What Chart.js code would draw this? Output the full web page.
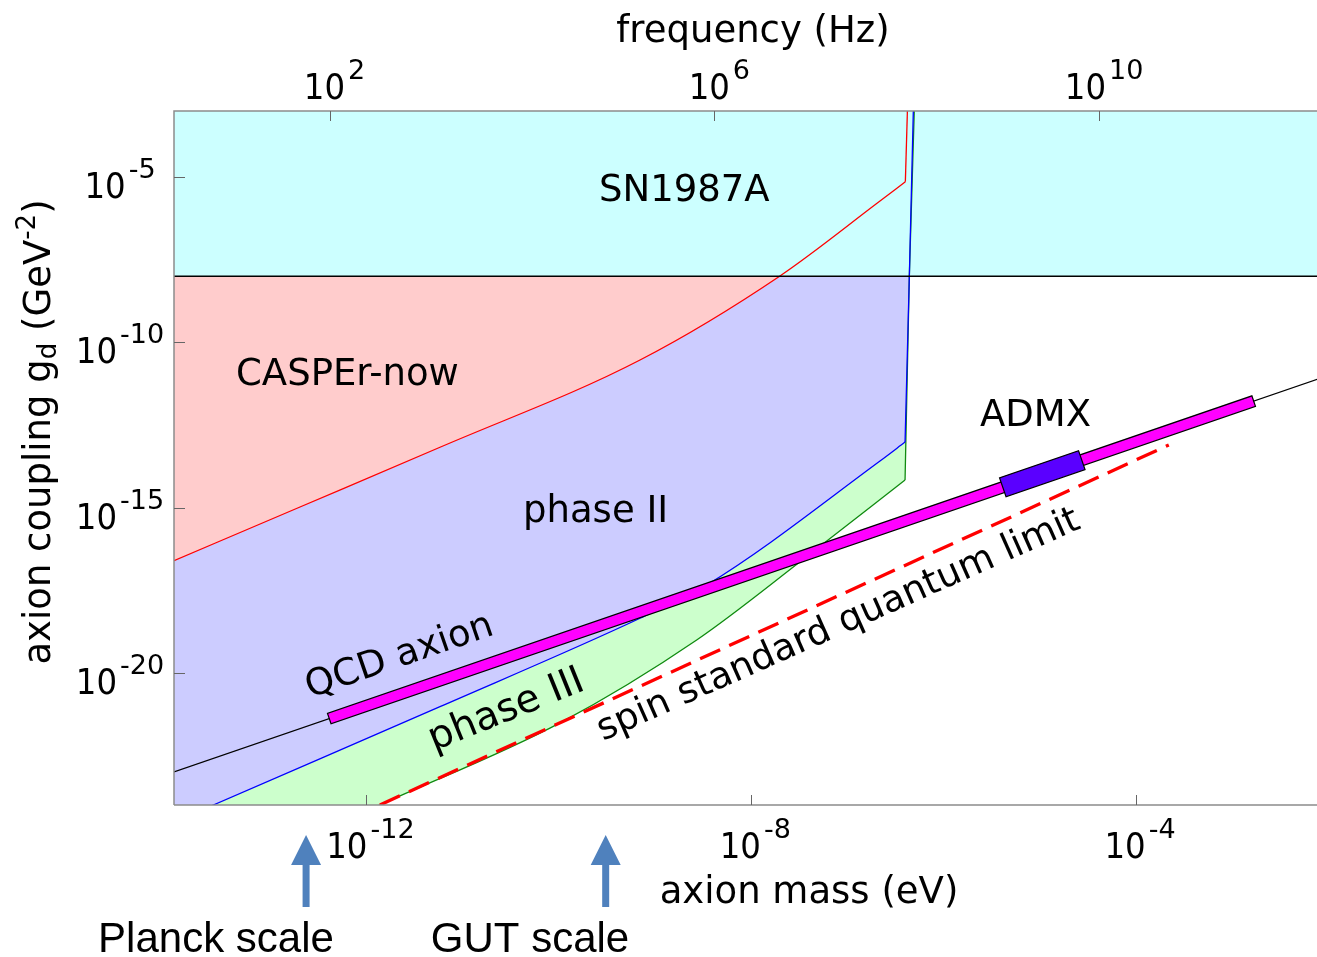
<!DOCTYPE html>
<html>
<head>
<meta charset="utf-8">
<script src="https://cdn.jsdelivr.net/npm/chart.js"></script>
<style>
html,body{margin:0;padding:0;background:#ffffff;}
#wrap{width:1317px;height:957px;position:relative;}
</style>
</head>
<body>
<div id="wrap"><canvas id="c" width="1317" height="957"></canvas></div>
<script>
// ---------------- data ----------------
const massRange = [1e-14, 7.6e-3];          // axion mass, eV
const couplingRange = [1e-24, 1e-3];        // g_d, GeV^-2
const HZ_PER_EV = 2.418e14;

const massTicks = [1e-12, 1e-8, 1e-4];
const massTickExp = ['-12', '-8', '-4'];
const freqTicks = [1e2, 1e6, 1e10];
const freqTickExp = ['2', '6', '10'];
const couplingTicks = [1e-5, 1e-10, 1e-15, 1e-20];
const couplingTickExp = ['-5', '-10', '-15', '-20'];

// SN1987A bound (horizontal line, excluded above)
const sn1987aMass = [1e-14, 1e-2];
const sn1987aCoupling = [1e-8, 1e-8];

// CASPEr-now sensitivity boundary: smooth part, then the steep high-mass edge
const casperNowMass = [1.00e-14, 2.04e-13, 5.82e-12, 6.98e-10, 1.99e-8, 2.03e-7, 4.00e-7];
const casperNowCoupling = [2.47e-17, 1.04e-15, 6.68e-14, 2.92e-11, 1.02e-8, 1.61e-6, 7.26e-6];
const casperNowEdgeMass = [4.00e-7, 4.20e-7];
const casperNowEdgeCoupling = [7.26e-6, 1e-3];

// phase II boundary
const phase2Mass = [1.00e-14, 2.56e-14, 5.82e-12, 6.98e-10, 3.45e-9, 2.18e-7, 3.97e-7];
const phase2Coupling = [3.0e-25, 1e-24, 9.46e-22, 4.47e-19, 4.55e-18, 2.57e-14, 9.59e-14];
const phase2EdgeMass = [3.97e-7, 4.40e-7, 4.84e-7];
const phase2EdgeCoupling = [9.59e-14, 1.02e-8, 1e-3];

// phase III boundary
const phase3Mass = [1.00e-14, 1.38e-12, 1.03e-10, 2.71e-9, 3.48e-8, 3.97e-7];
const phase3Coupling = [1.4e-27, 1e-24, 3.06e-22, 9.86e-20, 2.73e-17, 6.84e-15];
const phase3EdgeMass = [3.97e-7, 4.40e-7, 4.95e-7];
const phase3EdgeCoupling = [6.84e-15, 1.02e-8, 1e-3];

// spin standard quantum limit
const sqlMass = [1.38e-12, 2.19e-4];
const sqlCoupling = [1e-24, 7.83e-14];

// QCD axion line and band
const qcdMass = [1e-14, 1e-2];
const qcdCoupling = [1e-23, 1e-11];
const qcdBandMass = [4.11e-13, 1.67e-3];
const qcdBandCoupling = [4.11e-22, 1.67e-12];

// ADMX
const admxMass = [4.12e-6, 2.73e-5];
const admxCoupling = [4.12e-15, 2.73e-14];

// energy-scale markers
const scaleNames = ['Planck scale', 'GUT scale'];
const scaleMass = [2.36e-13, 3.07e-10];

// ---------------- helpers ----------------
const pts = (xs, ys) => xs.map((x, i) => ({x: x, y: ys[i]}));
const FONT = '"DejaVu Sans", Verdana, sans-serif';

function common(extra) {
  return Object.assign({pointRadius: 0, pointHoverRadius: 0, tension: 0, clip: 0, fill: false}, extra);
}
const smooth = {cubicInterpolationMode: 'monotone'};

const datasets = [
  common({label: 'ADMX', data: pts(admxMass, admxCoupling), borderColor: '#5a00ff', borderWidth: 20, borderCapStyle: 'butt', order: 0, band: true}),
  common({label: 'QCD axion band', data: pts(qcdBandMass, qcdBandCoupling), borderColor: '#ff00ff', borderWidth: 11, borderCapStyle: 'butt', order: 1, band: true}),
  common({label: 'QCD axion', data: pts(qcdMass, qcdCoupling), borderColor: '#000000', borderWidth: 1.2, order: 2}),
  common({label: 'spin standard quantum limit', data: pts(sqlMass, sqlCoupling), borderColor: '#ff0000', borderWidth: 3.3, borderDash: [22, 10], borderCapStyle: 'butt', order: 3}),
  common({label: 'SN1987A', data: pts(sn1987aMass, sn1987aCoupling), borderColor: '#000000', borderWidth: 1.5, backgroundColor: '#ccffff', fill: 'end', order: 4}),
  common(Object.assign({label: 'CASPEr-now', data: pts(casperNowMass, casperNowCoupling), borderColor: '#ff0000', borderWidth: 1.3, backgroundColor: '#ffcccc', fill: 'end', order: 5}, smooth)),
  common({label: 'CASPEr-now edge', data: pts(casperNowEdgeMass, casperNowEdgeCoupling), borderColor: '#ff0000', borderWidth: 1.3, order: 5}),
  common(Object.assign({label: 'phase II', data: pts(phase2Mass, phase2Coupling), borderColor: '#0000ff', borderWidth: 1.3, backgroundColor: '#ccccff', fill: 'end', order: 6}, smooth)),
  common({label: 'phase II edge', data: pts(phase2EdgeMass, phase2EdgeCoupling), borderColor: '#0000ff', borderWidth: 1.3, backgroundColor: '#ccccff', fill: 'end', order: 6}),
  common(Object.assign({label: 'phase III', data: pts(phase3Mass, phase3Coupling), borderColor: '#108a10', borderWidth: 1.3, backgroundColor: '#ccffcc', fill: 'end', order: 7}, smooth)),
  common({label: 'phase III edge', data: pts(phase3EdgeMass, phase3EdgeCoupling), borderColor: '#108a10', borderWidth: 1.3, backgroundColor: '#ccffcc', fill: 'end', order: 7})
];

// outline for thick bands, drawn right after each band
const bandOutline = {
  id: 'bandOutline',
  afterDatasetDraw(chart, args) {
    const ds = chart.data.datasets[args.index];
    if (!ds.band) return;
    const xs = chart.scales.x, ys = chart.scales.y;
    const a = ds.data[0], b = ds.data[ds.data.length - 1];
    const x0 = xs.getPixelForValue(a.x), y0 = ys.getPixelForValue(a.y);
    const x1 = xs.getPixelForValue(b.x), y1 = ys.getPixelForValue(b.y);
    const len = Math.hypot(x1 - x0, y1 - y0), ang = Math.atan2(y1 - y0, x1 - x0);
    const w = ds.borderWidth;
    const ctx = chart.ctx;
    ctx.save();
    ctx.translate(x0, y0);
    ctx.rotate(ang);
    ctx.strokeStyle = '#000000';
    ctx.lineWidth = 1.2;
    ctx.strokeRect(0, -w / 2, len, w);
    ctx.restore();
  }
};

function powWidth(ctx, exp) {
  ctx.font = '36px ' + FONT;
  const w10 = ctx.measureText('10').width * 0.9;
  ctx.font = '27px ' + FONT;
  return w10 + 3 + ctx.measureText(exp).width;
}
function drawPow(ctx, x, base, exp) {
  ctx.save();
  ctx.fillStyle = '#000';
  ctx.textAlign = 'left';
  ctx.textBaseline = 'alphabetic';
  ctx.font = '36px ' + FONT;
  const w10 = ctx.measureText('10').width * 0.9;
  ctx.save();
  ctx.translate(x, base);
  ctx.scale(0.9, 1);
  ctx.fillText('10', 0, 0);
  ctx.restore();
  ctx.font = '27px ' + FONT;
  ctx.fillText(exp, x + w10 + 3, base - 20);
  ctx.restore();
}
function drawRotated(ctx, text, x, y, deg, font) {
  ctx.save();
  ctx.translate(x, y);
  ctx.rotate(deg * Math.PI / 180);
  ctx.font = font;
  ctx.textAlign = 'left';
  ctx.textBaseline = 'alphabetic';
  ctx.fillStyle = '#000';
  ctx.fillText(text, 0, 0);
  ctx.restore();
}

const decorations = {
  id: 'decorations',
  afterDraw(chart) {
    const ctx = chart.ctx;
    const area = chart.chartArea;
    const xs = chart.scales.x, ys = chart.scales.y;

    // frame
    ctx.save();
    ctx.strokeStyle = '#8c8c8c';
    ctx.lineWidth = 1.5;
    ctx.beginPath();
    ctx.moveTo(area.left, area.bottom);
    ctx.lineTo(area.left, area.top);
    ctx.lineTo(area.right, area.top);
    ctx.moveTo(area.left, area.bottom);
    ctx.lineTo(area.right, area.bottom);
    ctx.stroke();

    // ticks
    ctx.strokeStyle = '#666666';
    ctx.lineWidth = 1;
    ctx.beginPath();
    massTicks.forEach(m => {
      const px = Math.round(xs.getPixelForValue(m)) + 0.5;
      ctx.moveTo(px, area.bottom); ctx.lineTo(px, area.bottom - 10);
    });
    freqTicks.forEach(f => {
      const px = Math.round(xs.getPixelForValue(f / HZ_PER_EV)) + 0.5;
      ctx.moveTo(px, area.top); ctx.lineTo(px, area.top + 10);
    });
    couplingTicks.forEach(g => {
      const py = Math.round(ys.getPixelForValue(g)) + 0.5;
      ctx.moveTo(area.left, py); ctx.lineTo(area.left + 11, py);
    });
    ctx.stroke();
    ctx.restore();

    // tick labels
    massTicks.forEach((m, i) => {
      const px = xs.getPixelForValue(m);
      const w = powWidth(ctx, massTickExp[i]);
      drawPow(ctx, px - w / 2 + 4, area.bottom + 53, massTickExp[i]);
    });
    freqTicks.forEach((f, i) => {
      const px = xs.getPixelForValue(f / HZ_PER_EV);
      const w = powWidth(ctx, freqTickExp[i]);
      drawPow(ctx, px - w / 2 + 5, area.top - 12.5, freqTickExp[i]);
    });
    couplingTicks.forEach((g, i) => {
      const py = ys.getPixelForValue(g);
      const w = powWidth(ctx, couplingTickExp[i]);
      drawPow(ctx, 120 - w / 2, py + 21, couplingTickExp[i]);
    });

    // axis titles
    ctx.save();
    ctx.fillStyle = '#000';
    ctx.textBaseline = 'alphabetic';
    ctx.textAlign = 'center';
    ctx.font = '37px ' + FONT;
    ctx.fillText('frequency (Hz)', 753, 42);
    ctx.fillText('axion mass (eV)', 809, 903);
    ctx.restore();

    // y title with subscript / superscript
    const segs = [
      {t: 'axion coupling g', s: 37, dy: 0},
      {t: 'd', s: 26, dy: 6},
      {t: ' (GeV', s: 37, dy: 0},
      {t: '-2', s: 26, dy: -15},
      {t: ')', s: 37, dy: 0}
    ];
    let total = 0;
    segs.forEach(sg => { ctx.font = sg.s + 'px ' + FONT; sg.w = ctx.measureText(sg.t).width; total += sg.w; });
    ctx.save();
    ctx.translate(50, 432);
    ctx.rotate(-Math.PI / 2);
    ctx.fillStyle = '#000';
    ctx.textAlign = 'left';
    ctx.textBaseline = 'alphabetic';
    let cx = -total / 2;
    segs.forEach(sg => { ctx.font = sg.s + 'px ' + FONT; ctx.fillText(sg.t, cx, sg.dy); cx += sg.w; });
    ctx.restore();

    // region labels
    ctx.save();
    ctx.fillStyle = '#000';
    ctx.textAlign = 'left';
    ctx.textBaseline = 'alphabetic';
    ctx.font = '37px ' + FONT;
    ctx.fillText('SN1987A', 599, 201);
    ctx.fillText('CASPEr-now', 236, 385);
    ctx.fillText('phase II', 523, 522);
    ctx.fillText('ADMX', 980, 426);
    ctx.restore();
    drawRotated(ctx, 'QCD axion', 310, 698, -19, '37px ' + FONT);
    drawRotated(ctx, 'phase III', 434, 751, -22, '39px ' + FONT);
    drawRotated(ctx, 'spin standard quantum limit', 603, 741, -24, '37px ' + FONT);

    // energy-scale arrows
    ctx.save();
    ctx.fillStyle = '#4f81bd';
    scaleMass.forEach(m => {
      const px = xs.getPixelForValue(m);
      ctx.fillRect(px - 3.5, 864, 7, 43);
      ctx.beginPath();
      ctx.moveTo(px - 15, 865);
      ctx.lineTo(px + 15, 865);
      ctx.lineTo(px, 835);
      ctx.closePath();
      ctx.fill();
    });
    ctx.fillStyle = '#000';
    ctx.textAlign = 'center';
    ctx.textBaseline = 'alphabetic';
    ctx.font = '42px "Liberation Sans", Arial, sans-serif';
    ctx.fillText(scaleNames[0], 216, 952);
    ctx.fillText(scaleNames[1], 530, 952);
    ctx.restore();
  }
};

new Chart(document.getElementById('c'), {
  type: 'line',
  data: {datasets: datasets},
  options: {
    responsive: false,
    animation: false,
    devicePixelRatio: 1,
    layout: {autoPadding: false, padding: {left: 174, top: 111, right: 0, bottom: 152}},
    scales: {
      x: {type: 'logarithmic', min: massRange[0], max: massRange[1], display: false},
      y: {type: 'logarithmic', min: couplingRange[0], max: couplingRange[1], display: false}
    },
    plugins: {
      legend: {display: false},
      tooltip: {enabled: false},
      filler: {propagate: false, drawTime: 'beforeDatasetsDraw'}
    },
    events: []
  },
  plugins: [bandOutline, decorations]
});
</script>
</body>
</html>
